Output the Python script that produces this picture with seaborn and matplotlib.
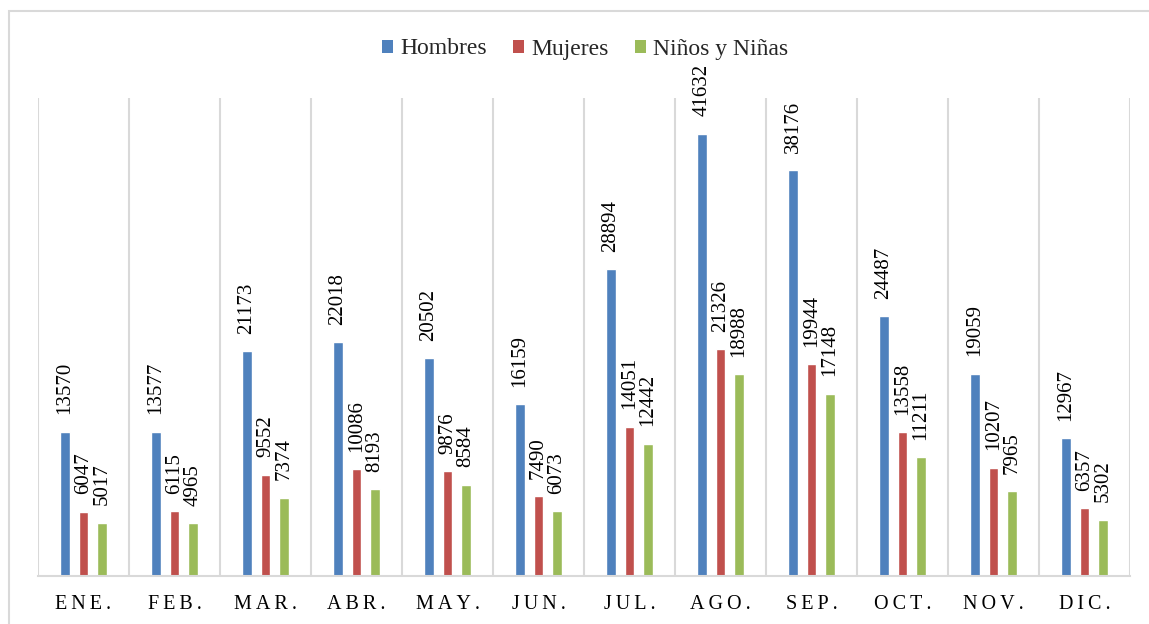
import matplotlib
matplotlib.use("Agg")
import matplotlib.pyplot as plt
import seaborn as sns
import pandas as pd
from matplotlib.patches import Rectangle, Patch

meses = ["ENE.", "FEB.", "MAR.", "ABR.", "MAY.", "JUN.", "JUL.", "AGO.", "SEP.", "OCT.", "NOV.", "DIC."]
series = ["Hombres", "Mujeres", "Niños y Niñas"]
hombres = [13570, 13577, 21173, 22018, 20502, 16159, 28894, 41632, 38176, 24487, 19059, 12967]
mujeres = [6047, 6115, 9552, 10086, 9876, 7490, 14051, 21326, 19944, 13558, 10207, 6357]
ninos = [5017, 4965, 7374, 8193, 8584, 6073, 12442, 18988, 17148, 11211, 7965, 5302]
colores = ["#4F81BD", "#C0504D", "#9BBB59"]

sns.set_theme(style="white")
plt.rcParams["font.family"] = ["Liberation Serif", "DejaVu Serif"]

rows = []
for nombre, vals in zip(series, [hombres, mujeres, ninos]):
    for m, v in zip(meses, vals):
        rows.append({"mes": m, "valor": v, "serie": nombre})
df = pd.DataFrame(rows)

fig = plt.figure(figsize=(11.49, 6.24), dpi=100)
ax = fig.add_axes([38/1149, 48/624, (1130-38)/1149, (576-98)/624])

sns.barplot(data=df, x="mes", y="valor", hue="serie", hue_order=series,
            order=meses, palette=colores, width=0.61, gap=0.46,
            saturation=1, legend=False, ax=ax, errorbar=None)

for cont, vals in zip(ax.containers, [hombres, mujeres, ninos]):
    ax.bar_label(cont, labels=[str(v) for v in vals], rotation=90,
                 padding=12.5, fontsize=15, color="#000000")

ax.set_xlim(-0.5, len(meses) - 0.5)
ax.set_ylim(0, 45000)
ax.set_yticks([])
ax.set_xlabel("")
ax.set_ylabel("")
for x in range(len(meses) + 1):
    ax.axvline(x - 0.5, color="#D9D9D9", lw=1.5, zorder=0)
for s in ["top", "right", "left"]:
    ax.spines[s].set_visible(False)
ax.spines["bottom"].set_color("#D9D9D9")
ax.spines["bottom"].set_linewidth(1.5)

ax.set_xticks(range(len(meses)))
ax.set_xticklabels(["\u2009".join(m) for m in meses], fontsize=14.5, color="#000000")
ax.tick_params(axis="x", length=0, pad=14)

handles = [Patch(facecolor=c, edgecolor="none") for c in colores]
fig.legend(handles, series, loc="center", bbox_to_anchor=(585/1149, 1 - 49/624),
           ncol=3, frameon=False, fontsize=17, handlelength=0.47,
           handleheight=0.47, handletextpad=0.3, columnspacing=1.1,
           borderpad=0)

fig.patches.append(Rectangle((9/1149, -0.1), 1.2, 1 - 11/624 + 0.1,
                             transform=fig.transFigure, fill=False,
                             edgecolor="#D9D9D9", lw=1.5))

fig.savefig("out.png", dpi=100, facecolor="white")
